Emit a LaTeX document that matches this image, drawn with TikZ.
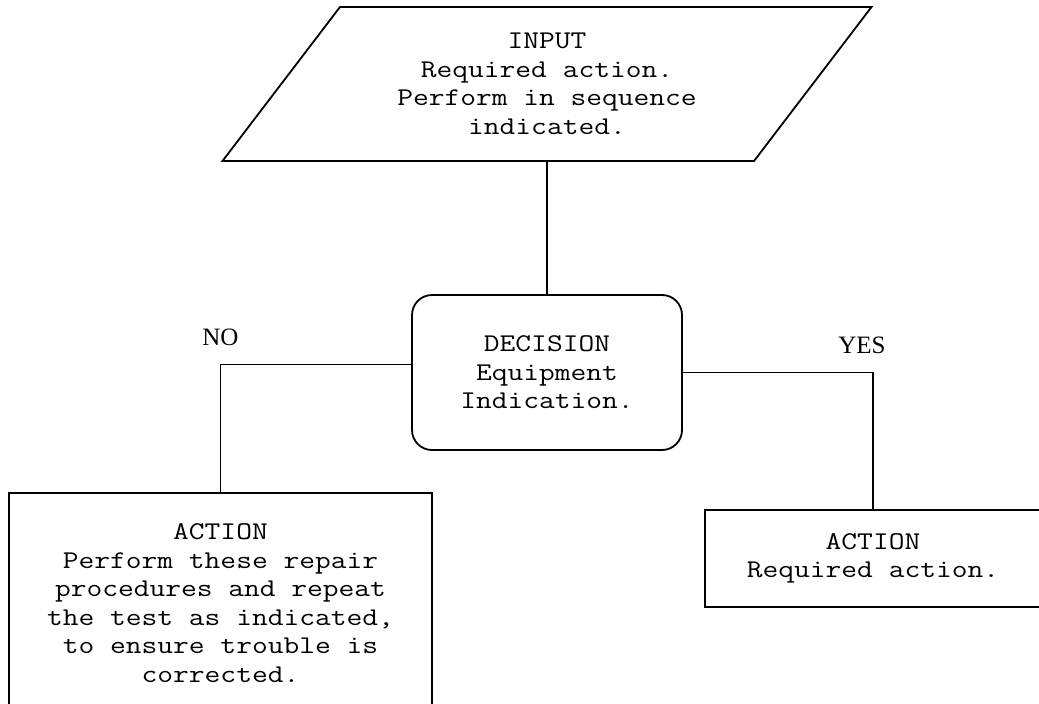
\documentclass[tikz,border=0pt]{standalone}
\usepackage{fontspec}
\setmainfont{Liberation Serif}
\newfontfamily\boitefont[FakeStretch=1.2]{Latin Modern Mono}
\usetikzlibrary{shapes.geometric, positioning}

\begin{document}
\begin{tikzpicture}[x=1pt, y=1pt, line width=1.8pt,
  every node/.style={font=\boitefont\fontsize{25.5}{28.5}\selectfont, align=center},
  entree/.style={draw, trapezium, trapezium left angle=50, trapezium right angle=130,
    trapezium stretches=true, minimum width=652pt, minimum height=154pt, inner sep=0pt},
  choix/.style={draw, rectangle, rounded corners=20pt, minimum width=270pt, minimum height=155pt},
  action/.style={draw, rectangle, inner sep=0pt},
  libelle/.style={font=\fontsize{25}{28}\selectfont}]

  % Cadre
  \useasboundingbox (0,0) rectangle (1039,-704);
  \clip (0,0) rectangle (1039,-704);

  % Blocs
  \node[entree] (input) at (547,-84) {INPUT\\Required action.\\Perform in sequence\\indicated.};
  \node[choix] (decision) at (547,-372.5) {DECISION\\Equipment\\Indication.};
  \node[action, minimum width=423pt, minimum height=220pt] (nogo) at (220.5,-603)
    {ACTION\\Perform these repair\\procedures and repeat\\the test as indicated,\\to ensure trouble is\\corrected.};
  \node[action, minimum width=336pt, minimum height=97pt] (go) at (873,-558.5)
    {ACTION\\Required action.};

  % Liaisons
  \draw (input) -- (decision);
  \draw ([yshift=8pt]decision.west) -| node[pos=0.5, above=15pt, libelle] {NO} (nogo.north);
  \draw (decision.east) -| node[pos=0.5, above=15pt, xshift=-11pt, libelle] {YES} (go.north);

\end{tikzpicture}
\end{document}
